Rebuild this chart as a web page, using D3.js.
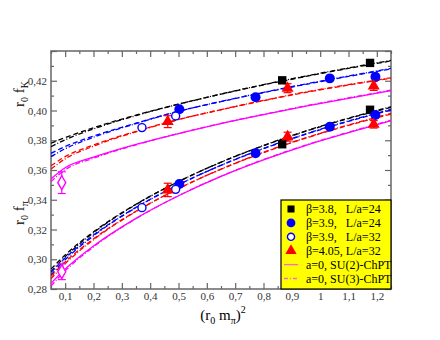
<!DOCTYPE html>
<html>
<head>
<meta charset="utf-8">
<script src="https://cdn.jsdelivr.net/npm/d3@7/dist/d3.min.js"></script>
<style>
  body { margin: 0; background: #fff; }
  svg text { font-family: "Liberation Serif", "Times New Roman", "DejaVu Serif", serif; }
</style>
</head>
<body>
<svg></svg>
<script>
// curve sample points (x = (r0 mpi)^2)
let curveX = [0.05, 0.1, 0.2, 0.35, 0.5, 0.65, 0.8, 0.95, 1.1, 1.25];

// r0 fK fits
let fkBlack2 = [0.3780, 0.3818, 0.3884, 0.3969, 0.4043, 0.4110, 0.4172, 0.4229, 0.4283, 0.4333];
let fkBlack3 = [0.3757, 0.3803, 0.3876, 0.3966, 0.4042, 0.4111, 0.4174, 0.4232, 0.4286, 0.4337];
let fkBlue2 = [0.3712, 0.3758, 0.3828, 0.3915, 0.3995, 0.4060, 0.4120, 0.4176, 0.4229, 0.4279];
let fkBlue3 = [0.3690, 0.3743, 0.3820, 0.3912, 0.3994, 0.4061, 0.4122, 0.4179, 0.4232, 0.4283];
let fkRed2 = [0.3628, 0.3690, 0.3768, 0.3860, 0.3940, 0.4005, 0.4066, 0.4122, 0.4171, 0.4216];
let fkRed3 = [0.3606, 0.3675, 0.3760, 0.3857, 0.3939, 0.4006, 0.4068, 0.4125, 0.4174, 0.4220];
let fkMag2 = [0.3540, 0.3615, 0.3686, 0.3772, 0.3845, 0.3912, 0.3972, 0.4029, 0.4082, 0.4133];
let fkMag3 = [0.3522, 0.3602, 0.3679, 0.3769, 0.3845, 0.3913, 0.3974, 0.4032, 0.4085, 0.4137];

// r0 fpi fits
let fpBlack2 = [0.2934, 0.3029, 0.3184, 0.3370, 0.3522, 0.3652, 0.3763, 0.3861, 0.3946, 0.4021];
let fpBlack3 = [0.2916, 0.3017, 0.3178, 0.3368, 0.3522, 0.3653, 0.3765, 0.3863, 0.3949, 0.4025];
let fpBlue2 = [0.2912, 0.3008, 0.3163, 0.3349, 0.3501, 0.3631, 0.3743, 0.3841, 0.3927, 0.4003];
let fpBlue3 = [0.2894, 0.2996, 0.3157, 0.3347, 0.3501, 0.3632, 0.3745, 0.3843, 0.3930, 0.4007];
let fpRed2 = [0.2887, 0.2982, 0.3137, 0.3323, 0.3475, 0.3605, 0.3717, 0.3815, 0.3900, 0.3976];
let fpRed3 = [0.2869, 0.2970, 0.3131, 0.3321, 0.3475, 0.3606, 0.3719, 0.3817, 0.3903, 0.3980];
let fpMag2 = [0.2838, 0.2934, 0.3089, 0.3275, 0.3427, 0.3557, 0.3668, 0.3766, 0.3851, 0.3931];
let fpMag3 = [0.2820, 0.2922, 0.3083, 0.3273, 0.3427, 0.3558, 0.3670, 0.3768, 0.3854, 0.3935];

// lattice data
let b38X = [0.866, 1.176];
let b38K = [0.4203, 0.4320];
let b38P = [0.3773, 0.4005];

let b39X = [0.503, 0.772, 1.034, 1.195];
let b39K = [0.4008, 0.4089, 0.4216, 0.4227];
let b39P = [0.3506, 0.3712, 0.3891, 0.3970];

let b39bX = [0.371, 0.490];
let b39bK = [0.3885, 0.3963];
let b39bP = [0.3347, 0.3470];

let b405X = [0.462, 0.885, 1.189];
let b405K = [0.3925, 0.4150, 0.4165];
let b405P = [0.3466, 0.3824, 0.3907];
let b405Kerr = [0.004, 0.003, 0.003];
let b405Perr = [0.0045, 0.003, 0.0025];

// physical point
let physX = [0.088];
let physK = [0.3515];
let physP = [0.2916];
let physKerr = [0.0073];
let physPerr = [0.0053];

let xTicks = [0.1, 0.2, 0.3, 0.4, 0.5, 0.6, 0.7, 0.8, 0.9, 1.0, 1.1, 1.2];
let xTickLabels = ['0,1', '0,2', '0,3', '0,4', '0,5', '0,6', '0,7', '0,8', '0,9', '1', '1,1', '1,2'];
let yTicks = [0.28, 0.30, 0.32, 0.34, 0.36, 0.38, 0.40, 0.42, 0.44];
let yTickLabels = ['0,28', '0,30', '0,32', '0,34', '0,36', '0,38', '0,40', '0,42', ''];

let legendLabels = ['β=3.8,   L/a=24', 'β=3.9,   L/a=24', 'β=3.9,   L/a=32', 'β=4.05, L/a=32',
                    'a=0, SU(2)-ChPT', 'a=0, SU(3)-ChPT'];

let width = 440;
let height = 340;
let plotLeft = 51, plotRight = 391, plotTop = 51, plotBottom = 289;
const serif = '"Liberation Serif", "Times New Roman", "DejaVu Serif", serif';

const svg = d3.select('svg').attr('width', width).attr('height', height)
              .attr('font-family', serif);

let xScale = d3.scaleLinear().domain([0.05, 1.25]).range([plotLeft, plotRight]);
let yScale = d3.scaleLinear().domain([0.28, 0.44]).range([plotBottom, plotTop]);

const axisColor = '#666';

let drawAxes = () => {
    let minorX = d3.range(0.05, 1.2501, 0.05).filter(v => Math.abs(v * 10 - Math.round(v * 10)) > 0.01);
    let minorY = d3.range(0.29, 0.44, 0.02);
    let fmtX = (d) => xTickLabels[xTicks.findIndex(t => Math.abs(t - d) < 1e-6)];
    let fmtY = (d) => yTickLabels[yTicks.findIndex(t => Math.abs(t - d) < 1e-6)];

    svg.append('g').attr('transform', 'translate(0,' + plotBottom + ')')
       .call(d3.axisBottom(xScale).tickValues(xTicks).tickSize(-6).tickPadding(3).tickFormat(fmtX));
    svg.append('g').attr('transform', 'translate(0,' + plotBottom + ')')
       .call(d3.axisBottom(xScale).tickValues(minorX).tickSize(-3).tickFormat(''));
    svg.append('g').attr('transform', 'translate(0,' + plotTop + ')')
       .call(d3.axisTop(xScale).tickValues(xTicks).tickSize(-6).tickFormat(''));
    svg.append('g').attr('transform', 'translate(0,' + plotTop + ')')
       .call(d3.axisTop(xScale).tickValues(minorX).tickSize(-3).tickFormat(''));
    svg.append('g').attr('transform', 'translate(' + plotLeft + ',0)')
       .call(d3.axisLeft(yScale).tickValues(yTicks).tickSize(-6).tickPadding(4).tickFormat(fmtY));
    svg.append('g').attr('transform', 'translate(' + plotLeft + ',0)')
       .call(d3.axisLeft(yScale).tickValues(minorY).tickSize(-3).tickFormat(''));
    svg.append('g').attr('transform', 'translate(' + plotRight + ',0)')
       .call(d3.axisRight(yScale).tickValues(yTicks).tickSize(-6).tickFormat(''));
    svg.append('g').attr('transform', 'translate(' + plotRight + ',0)')
       .call(d3.axisRight(yScale).tickValues(minorY).tickSize(-3).tickFormat(''));

    svg.selectAll('.domain').remove();
    svg.selectAll('g').attr('font-family', serif);
    svg.selectAll('.tick line').attr('stroke', axisColor).attr('stroke-width', 1.2);
    svg.selectAll('.tick text').attr('fill', '#333').attr('font-size', 11);

    svg.append('rect')
       .attr('x', plotLeft).attr('y', plotTop)
       .attr('width', plotRight - plotLeft).attr('height', plotBottom - plotTop)
       .attr('fill', 'none').attr('stroke', axisColor).attr('stroke-width', 1.5);
}

let drawCurves = () => {
    svg.append('clipPath').attr('id', 'plot-clip')
       .append('rect').attr('x', plotLeft).attr('y', plotTop)
       .attr('width', plotRight - plotLeft).attr('height', plotBottom - plotTop);

    let line = d3.line()
                 .x((d, i) => xScale(curveX[i]))
                 .y((d) => yScale(d))
                 .curve(d3.curveMonotoneX);

    let dash = '5,3';
    let dashDot = '5,2,1,2';
    let curves = [
        [fkBlack2, '#000', dash], [fkBlack3, '#000', dashDot],
        [fkBlue2, '#0000ff', dash], [fkBlue3, '#0000ff', dashDot],
        [fkRed2, '#ff0000', dash], [fkRed3, '#ff0000', dashDot],
        [fkMag2, '#ff00ff', null], [fkMag3, '#ff00ff', dashDot],
        [fpBlack2, '#000', dash], [fpBlack3, '#000', dashDot],
        [fpBlue2, '#0000ff', dash], [fpBlue3, '#0000ff', dashDot],
        [fpRed2, '#ff0000', dash], [fpRed3, '#ff0000', dashDot],
        [fpMag2, '#ff00ff', null], [fpMag3, '#ff00ff', dashDot]
    ];

    let g = svg.append('g').attr('clip-path', 'url(#plot-clip)');
    curves.forEach((c) => {
        g.append('path')
         .attr('d', line(c[0]))
         .attr('fill', 'none')
         .attr('stroke', c[1])
         .attr('stroke-width', 1.3)
         .attr('stroke-dasharray', c[2]);
    });
}

let drawErrors = (xs, ys, errs, color) => {
    xs.forEach((x, i) => {
        let px = xScale(x);
        let y1 = yScale(ys[i] - errs[i]);
        let y2 = yScale(ys[i] + errs[i]);
        svg.append('line').attr('x1', px).attr('x2', px).attr('y1', y1).attr('y2', y2)
           .attr('stroke', color).attr('stroke-width', 1.2);
        [y1, y2].forEach((yy) => {
            svg.append('line').attr('x1', px - 4).attr('x2', px + 4).attr('y1', yy).attr('y2', yy)
               .attr('stroke', color).attr('stroke-width', 1.2);
        });
    });
}

let drawSymbols = (xs, ys, type, size, fill, stroke) => {
    svg.append('g').selectAll('path')
       .data(ys)
       .enter()
       .append('path')
       .attr('d', d3.symbol().type(type).size(size))
       .attr('transform', (d, i) => 'translate(' + xScale(xs[i]) + ',' + yScale(d) + ')')
       .attr('fill', fill)
       .attr('stroke', stroke)
       .attr('stroke-width', 1.4);
}

let drawPoints = () => {
    drawErrors(b405X, b405K, b405Kerr, '#ff0000');
    drawErrors(b405X, b405P, b405Perr, '#ff0000');
    drawErrors(physX, physK, physKerr, '#ff00ff');
    drawErrors(physX, physP, physPerr, '#ff00ff');

    drawSymbols(b38X, b38K, d3.symbolSquare, 70, '#000', 'none');
    drawSymbols(b38X, b38P, d3.symbolSquare, 70, '#000', 'none');
    drawSymbols(b39X, b39K, d3.symbolCircle, 78, '#0000ff', 'none');
    drawSymbols(b39X, b39P, d3.symbolCircle, 78, '#0000ff', 'none');
    drawSymbols(b39bX, b39bK, d3.symbolCircle, 50, '#fff', '#0000ff');
    drawSymbols(b39bX, b39bP, d3.symbolCircle, 50, '#fff', '#0000ff');
    drawSymbols(b405X, b405K, d3.symbolTriangle, 62, '#ff0000', 'none');
    drawSymbols(b405X, b405P, d3.symbolTriangle, 62, '#ff0000', 'none');
    drawSymbols(physX, physK, d3.symbolDiamond, 55, '#fff', '#ff00ff');
    drawSymbols(physX, physP, d3.symbolDiamond, 55, '#fff', '#ff00ff');
}

let drawLegend = () => {
    let lx = 281, ly = 200;
    let g = svg.append('g');
    g.append('rect').attr('x', lx).attr('y', ly)
     .attr('width', plotRight - lx).attr('height', plotBottom - ly)
     .attr('fill', '#ffff00').attr('stroke', '#000').attr('stroke-width', 1.2);

    let rowY = (i) => 209 + i * 13.9;
    let symbols = [
        [d3.symbolSquare, 50, '#000', 'none'],
        [d3.symbolCircle, 60, '#0000ff', 'none'],
        [d3.symbolCircle, 40, '#fff', '#0000ff'],
        [d3.symbolTriangle, 55, '#ff0000', 'none']
    ];
    symbols.forEach((s, i) => {
        g.append('path')
         .attr('d', d3.symbol().type(s[0]).size(s[1]))
         .attr('transform', 'translate(291,' + rowY(i) + ')')
         .attr('fill', s[2]).attr('stroke', s[3]).attr('stroke-width', 1.4);
    });
    [[null, 4], ['4,2,1,2', 5]].forEach((l) => {
        g.append('line')
         .attr('x1', 284).attr('x2', 298)
         .attr('y1', rowY(l[1])).attr('y2', rowY(l[1]))
         .attr('stroke', '#ff66cc').attr('stroke-width', 1.3)
         .attr('stroke-dasharray', l[0]);
    });
    legendLabels.forEach((t, i) => {
        g.append('text')
         .attr('x', 306).attr('y', rowY(i) + 4)
         .attr('font-size', 12)
         .style('white-space', 'pre')
         .attr('fill', '#000')
         .text(t);
    });
}

let drawLabels = () => {
    let k = svg.append('text')
               .attr('transform', 'translate(24,94) rotate(-90)')
               .attr('text-anchor', 'middle')
               .attr('font-size', 15);
    k.append('tspan').text('r');
    k.append('tspan').attr('dy', 4).attr('font-size', 10).text('0');
    k.append('tspan').attr('dy', -4).text(' f');
    k.append('tspan').attr('dy', 4).attr('font-size', 10).text('K');

    let p = svg.append('text')
               .attr('transform', 'translate(24,213) rotate(-90)')
               .attr('text-anchor', 'middle')
               .attr('font-size', 15);
    p.append('tspan').text('r');
    p.append('tspan').attr('dy', 4).attr('font-size', 10).text('0');
    p.append('tspan').attr('dy', -4).text(' f');
    p.append('tspan').attr('dy', 4).attr('font-size', 10).text('π');

    let xl = svg.append('text')
                .attr('x', 223).attr('y', 320)
                .attr('text-anchor', 'middle')
                .attr('font-size', 15);
    xl.append('tspan').text('(r');
    xl.append('tspan').attr('dy', 4).attr('font-size', 10).text('0');
    xl.append('tspan').attr('dy', -4).text(' m');
    xl.append('tspan').attr('dy', 4).attr('font-size', 10).text('π');
    xl.append('tspan').attr('dy', -4).text(')');
    xl.append('tspan').attr('dy', -7).attr('font-size', 10).text('2');
}

drawAxes();
drawCurves();
drawPoints();
drawLegend();
drawLabels();
</script>
</body>
</html>
